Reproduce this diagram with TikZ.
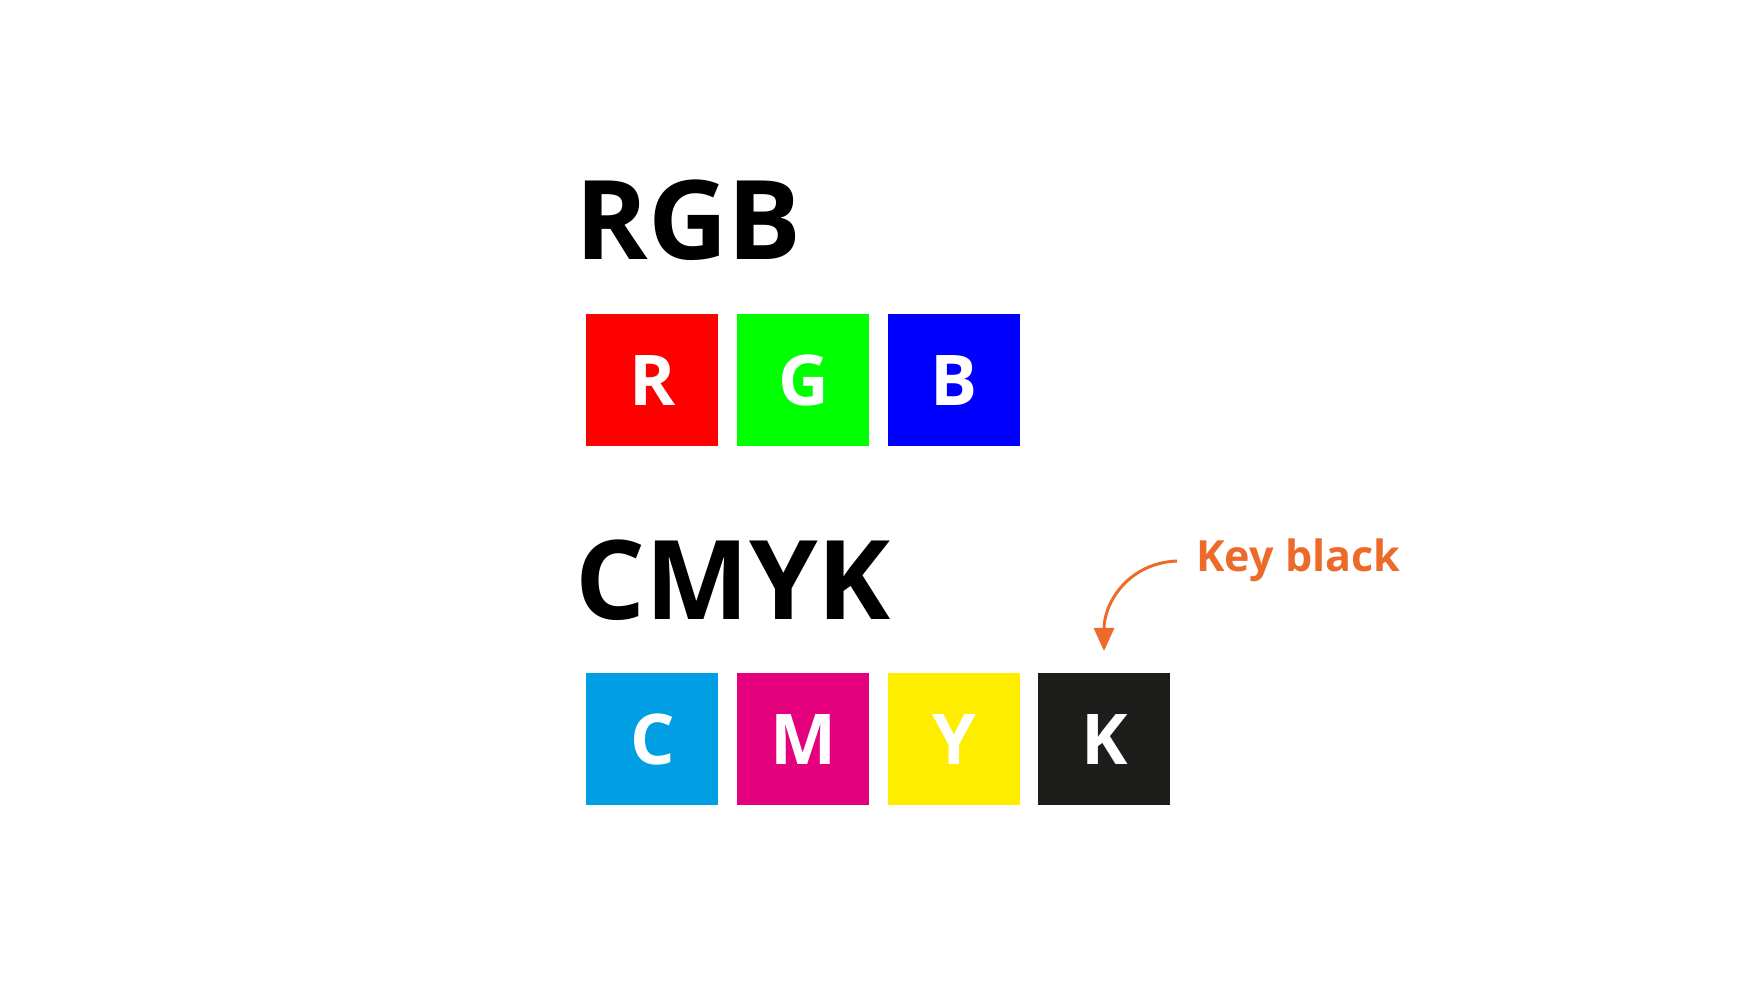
\documentclass[tikz,border=0pt]{standalone}
\usepackage{fontspec}
\setmainfont{Open Sans}
\usetikzlibrary{arrows.meta}
\definecolor{cR}{HTML}{FF0000}
\definecolor{cG}{HTML}{00FF00}
\definecolor{cB}{HTML}{0000FF}
\definecolor{cC}{HTML}{009FE3}
\definecolor{cM}{HTML}{E5007D}
\definecolor{cY}{HTML}{FFED00}
\definecolor{cK}{HTML}{1D1D1B}
\definecolor{orng}{HTML}{EC6A2A}
\begin{document}
\begin{tikzpicture}[x=0.5pt,y=-0.5pt,
  sq/.style={minimum size=66pt, inner sep=0pt, anchor=north west, text=white,
    font=\fontsize{35}{35}\selectfont\bfseries, text height=25pt, text depth=0pt},
  title/.style={anchor=base west, inner sep=0pt, font=\fontsize{55}{55}\selectfont\bfseries},
  note/.style={anchor=base west, inner sep=0pt, text=orng, font=\fontsize{21.5}{21.5}\selectfont\bfseries},
  pointer/.style={draw=orng, line width=1.5pt, -{Triangle[length=11.5pt,width=10pt]}}]
\useasboundingbox[fill=white] (0,0) rectangle (1756,988);
\node[title] (rgb) at (575,260) {RGB};
\node[sq, fill=cR] (R) at (586,314) {R};
\node[sq, fill=cG] (G) at (737,314) {G};
\node[sq, fill=cB] (B) at (888,314) {B};
\node[title] (cmyk) at (575,619) {CMYK};
\node[sq, fill=cC] (C) at (586,673) {C};
\node[sq, fill=cM] (M) at (737,673) {M};
\node[sq, fill=cY] (Y) at (888,673) {Y};
\node[sq, fill=cK] (K) at (1038,673) {K};
\node[note] (kb) at (1196,572) {Key black};
\coordinate (ks) at (1177,561);
\coordinate (kt) at (1104,651);
\draw[pointer] (ks) .. controls (1128,563) and (1104,603) .. (kt);
\end{tikzpicture}
\end{document}
